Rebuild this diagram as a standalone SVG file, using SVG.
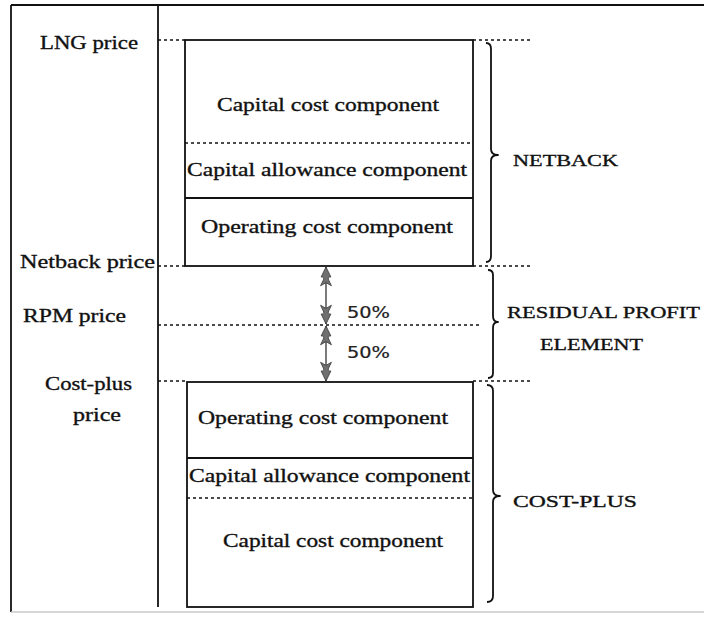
<svg xmlns="http://www.w3.org/2000/svg" width="704" height="623" viewBox="0 0 704 623">
  <style>
    .lbl { font-family: "Liberation Serif", "DejaVu Serif", serif; font-size: 19px; fill: #111; stroke: #111; stroke-width: 0.35; }
    .cap { font-family: "Liberation Serif", "DejaVu Serif", serif; font-size: 17px; fill: #111; stroke: #111; stroke-width: 0.35; }
    .pct { font-family: "DejaVu Sans", "Liberation Sans", sans-serif; font-size: 15px; fill: #222; stroke: #222; stroke-width: 0.2; }
    .solid { fill: none; stroke: #111; stroke-width: 1.8; }
    .dot { fill: none; stroke: #111; stroke-width: 1.6; stroke-dasharray: 3 3; }
    .brace { fill: none; stroke: #111; stroke-width: 1.8; stroke-linejoin: round; }
    .split { fill: none; stroke: #222; stroke-width: 1.2; }
  </style>
  <defs>
    <!-- grey double-barbed arrowhead, drawn pointing along +x -->
    <marker id="head" viewBox="0 0 16 12" refX="16" refY="6" markerWidth="20" markerHeight="13" markerUnits="userSpaceOnUse" orient="auto-start-reverse" preserveAspectRatio="none">
      <path d="M16,6 L8,1.5 Q9,3.5 6.5,4 L1,1 L3.5,6 L1,11 L6.5,8 Q9,8.5 8,10.5 Z" fill="#707070" stroke="#3a3a3a" stroke-width="0.7" stroke-linejoin="round"/>
    </marker>
  </defs>

  <rect width="704" height="623" fill="#fff"/>

  <!-- outer frame and price axis -->
  <g id="frame">
    <line class="solid" x1="11" y1="5" x2="704" y2="5"/>
    <line class="solid" x1="11" y1="5" x2="11" y2="612"/>
    <line x1="11" y1="612" x2="704" y2="612" stroke="#c8c8c8" stroke-width="1.5"/>
    <line class="solid" x1="158" y1="5" x2="158" y2="607"/>
  </g>

  <!-- price level labels -->
  <g id="price-labels">
    <text class="lbl" x="40" y="49" textLength="98" lengthAdjust="spacingAndGlyphs">LNG price</text>
    <text class="lbl" x="20" y="268" textLength="135" lengthAdjust="spacingAndGlyphs">Netback price</text>
    <text class="lbl" x="23" y="322" textLength="103" lengthAdjust="spacingAndGlyphs">RPM price</text>
    <text class="lbl" x="45" y="390" textLength="87" lengthAdjust="spacingAndGlyphs">Cost-plus</text>
    <text class="lbl" x="73" y="421" textLength="48" lengthAdjust="spacingAndGlyphs">price</text>
  </g>

  <!-- netback stack -->
  <g id="netback-stack">
    <rect class="solid" x="185" y="40" width="288" height="226"/>
    <line class="dot" x1="185" y1="143" x2="473" y2="143"/>
    <line class="solid" x1="185" y1="198" x2="473" y2="198"/>
    <text class="lbl" x="217" y="111" textLength="222" lengthAdjust="spacingAndGlyphs">Capital cost component</text>
    <text class="lbl" x="187" y="176" textLength="280" lengthAdjust="spacingAndGlyphs">Capital allowance component</text>
    <text class="lbl" x="201" y="233" textLength="252" lengthAdjust="spacingAndGlyphs">Operating cost component</text>
  </g>

  <!-- cost-plus stack -->
  <g id="costplus-stack">
    <rect class="solid" x="187" y="382" width="286" height="225"/>
    <line class="solid" x1="187" y1="458" x2="473" y2="458"/>
    <line class="dot" x1="187" y1="498" x2="473" y2="498"/>
    <text class="lbl" x="198" y="424" textLength="250" lengthAdjust="spacingAndGlyphs">Operating cost component</text>
    <text class="lbl" x="189" y="482" textLength="281" lengthAdjust="spacingAndGlyphs">Capital allowance component</text>
    <text class="lbl" x="223" y="547" textLength="220" lengthAdjust="spacingAndGlyphs">Capital cost component</text>
  </g>

  <!-- braces with section names -->
  <g id="netback-brace">
    <path class="brace" d="M486,43 Q491,43 491,49 L491,149 Q491,155 498,155 Q491,155 491,161 L491,256 Q491,262 486,262"/>
    <text class="cap" x="513" y="166" textLength="105" lengthAdjust="spacingAndGlyphs">NETBACK</text>
  </g>
  <g id="residual-brace">
    <path class="brace" d="M488,270 Q493,270 493,275 L493,316 Q493,322 498,322 Q493,322 493,328 L493,373 Q493,378 488,378"/>
    <text class="cap" x="507" y="318" textLength="193" lengthAdjust="spacingAndGlyphs">RESIDUAL PROFIT</text>
    <text class="cap" x="540" y="350" textLength="103" lengthAdjust="spacingAndGlyphs">ELEMENT</text>
  </g>
  <g id="costplus-brace">
    <path class="brace" d="M487,385 Q493,385 493,391 L493,490 Q493,496 500,496 Q493,496 493,502 L493,596 Q493,602 487,602"/>
    <text class="cap" x="513" y="507" textLength="124" lengthAdjust="spacingAndGlyphs">COST-PLUS</text>
  </g>

  <!-- dotted price guides and 50% split arrows -->
  <g id="connectors">
    <line class="dot" x1="158" y1="40" x2="185" y2="40"/>
    <line class="dot" x1="473" y1="40" x2="530" y2="40"/>
    <line class="dot" x1="158" y1="266" x2="185" y2="266"/>
    <line class="dot" x1="473" y1="266" x2="530" y2="266"/>
    <line class="dot" x1="158" y1="325" x2="482" y2="325"/>
    <line class="dot" x1="158" y1="381" x2="187" y2="381"/>
    <line class="dot" x1="473" y1="381" x2="533" y2="381"/>
    <line class="split" x1="326" y1="267" x2="326" y2="324" marker-start="url(#head)" marker-end="url(#head)"/>
    <line class="split" x1="326" y1="326" x2="326" y2="381" marker-start="url(#head)" marker-end="url(#head)"/>
    <text class="pct" x="347" y="318" textLength="43" lengthAdjust="spacingAndGlyphs">50%</text>
    <text class="pct" x="347" y="358" textLength="43" lengthAdjust="spacingAndGlyphs">50%</text>
  </g>
</svg>
